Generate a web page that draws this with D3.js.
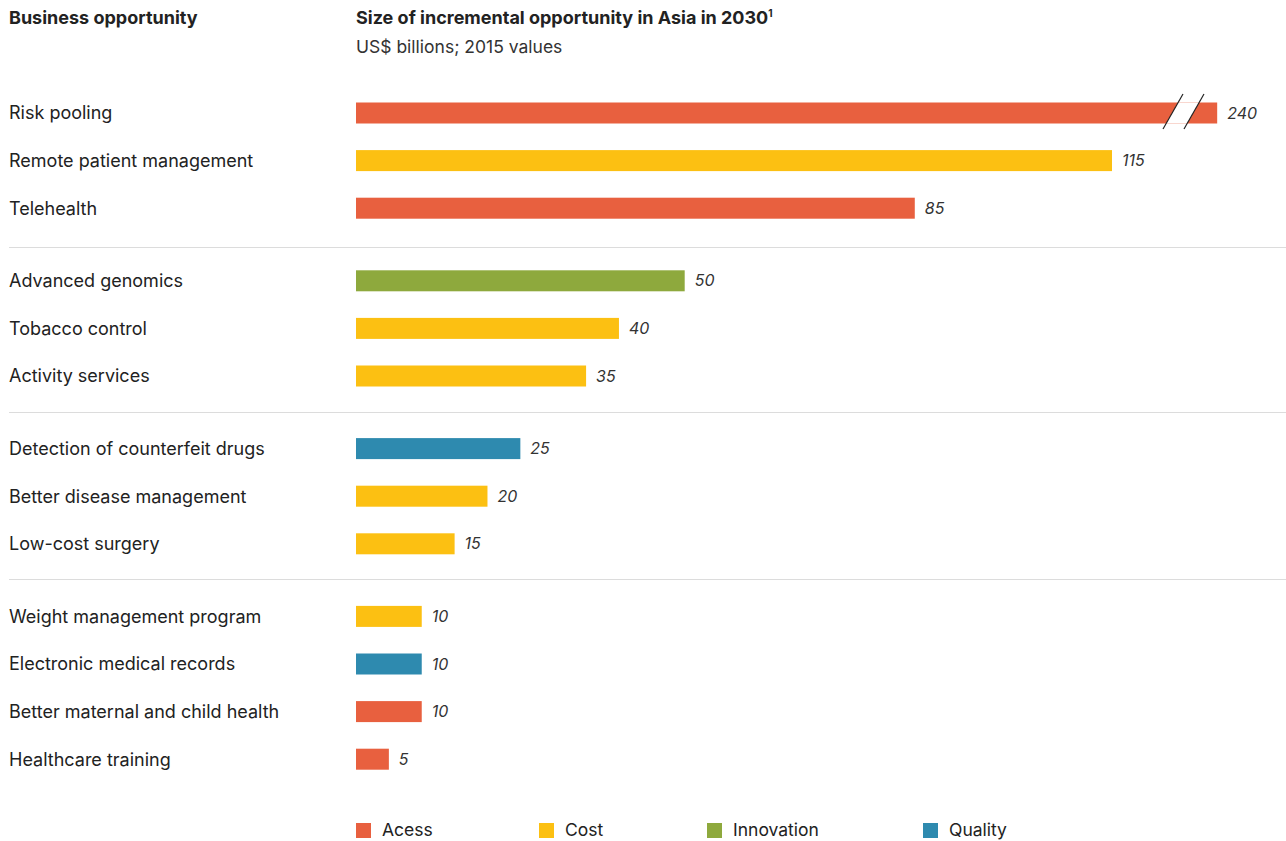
<!DOCTYPE html>
<html>
<head>
<meta charset="utf-8">
<script src="https://cdn.jsdelivr.net/npm/d3@7"></script>
<style>
  body { margin: 0; background: #fff; }
  svg { font-family: Inter, "Open Sans", sans-serif; }
</style>
</head>
<body>
<div id="chart"></div>
<script>
// data
const opportunities = [
    "Risk pooling", "Remote patient management", "Telehealth",
    "Advanced genomics", "Tobacco control", "Activity services",
    "Detection of counterfeit drugs", "Better disease management", "Low-cost surgery",
    "Weight management program", "Electronic medical records", "Better maternal and child health", "Healthcare training"
];
const values = [240, 115, 85, 50, 40, 35, 25, 20, 15, 10, 10, 10, 5];
const types = ["Access", "Cost", "Access", "Innovation", "Cost", "Cost", "Quality", "Cost", "Cost", "Cost", "Quality", "Access", "Access"];
const groups = [0, 0, 0, 1, 1, 1, 2, 2, 2, 3, 3, 3, 3];
const legendLabels = ["Acess", "Cost", "Innovation", "Quality"];
const legendKeys = ["Access", "Cost", "Innovation", "Quality"];

const width = 1286, height = 841;
const barLeft = 356;
const axisCap = 131; // the 240 bar is broken at this value

const color = d3.scaleOrdinal()
    .domain(["Access", "Cost", "Innovation", "Quality"])
    .range(["#e8603f", "#fcc012", "#8ea93d", "#2e8aaf"]);

const x = d3.scaleLinear().domain([0, 115]).range([barLeft, 1112]);

// rows about 47.6px apart, extra gap between groups
const rowY = opportunities.map((d, i) => 113 + i * 47.6 + groups[i] * 25);

const svg = d3.select("#chart").append("svg")
    .attr("width", width)
    .attr("height", height);

// headers
svg.append("text").attr("x", 9).attr("y", 24)
    .style("font-size", "18px").style("font-weight", 700).attr("fill", "#222")
    .text("Business opportunity");
const title = svg.append("text").attr("x", 356).attr("y", 24)
    .style("font-size", "18px").style("font-weight", 700).attr("fill", "#222")
    .text("Size of incremental opportunity in Asia in 2030");
title.append("tspan").attr("dy", -7).style("font-size", "10px").text("1");
svg.append("text").attr("x", 356).attr("y", 53)
    .style("font-size", "17.5px").attr("fill", "#333")
    .text("US$ billions; 2015 values");

// group separators
const sepY = [247, 412, 579];
svg.selectAll("line.sep").data(sepY).join("line")
    .attr("class", "sep")
    .attr("x1", 9).attr("x2", width)
    .attr("y1", d => d + 0.5).attr("y2", d => d + 0.5)
    .attr("stroke", "#dcdcdc").attr("stroke-width", 1);

const rows = svg.selectAll("g.row").data(opportunities).join("g").attr("class", "row");

rows.append("text")
    .attr("x", 9).attr("y", (d, i) => rowY[i])
    .attr("dy", "0.35em")
    .style("font-size", "18px").attr("fill", "#222")
    .text(d => d);

const barH = 21;
rows.append("rect")
    .attr("x", x(0))
    .attr("y", (d, i) => rowY[i] - barH / 2)
    .attr("width", (d, i) => x(Math.min(values[i], axisCap)) - x(0))
    .attr("height", barH)
    .attr("fill", (d, i) => color(types[i]));

rows.append("text")
    .attr("x", (d, i) => x(Math.min(values[i], axisCap)) + 10)
    .attr("y", (d, i) => rowY[i])
    .attr("dy", "0.35em")
    .style("font-size", "16px").style("font-style", "italic").attr("fill", "#333")
    .text((d, i) => values[i]);

// axis break on the first bar: white gap between two slanted strokes
const by = rowY[0];
const slope = 20 / 35;
const lineAt = (x0, y) => x0 + (by + 16 - y) * slope;
const barTop = by - barH / 2, barBottom = by + barH / 2;
svg.append("polygon")
    .attr("points", [
        [lineAt(1163, barBottom), barBottom], [lineAt(1163, barTop), barTop],
        [lineAt(1184, barTop), barTop], [lineAt(1184, barBottom), barBottom]
    ].map(p => p.join(",")).join(" "))
    .attr("fill", "#fff");
[1163, 1184].forEach(x0 => {
    svg.append("line")
        .attr("x1", x0).attr("y1", by + 16)
        .attr("x2", lineAt(x0, by - 19)).attr("y2", by - 19)
        .attr("stroke", "#222").attr("stroke-width", 1.2);
});

// legend
const legendX = [356, 539, 707, 923];
const lg = svg.selectAll("g.legend").data(legendLabels).join("g").attr("class", "legend")
    .attr("transform", (d, i) => `translate(${legendX[i]},830)`);
lg.append("rect").attr("x", 0).attr("y", -7).attr("width", 15).attr("height", 15)
    .attr("fill", (d, i) => color(legendKeys[i]));
lg.append("text").attr("x", 26).attr("y", 0).attr("dy", "0.35em")
    .style("font-size", "17.5px").attr("fill", "#222")
    .text(d => d);
</script>
</body>
</html>
